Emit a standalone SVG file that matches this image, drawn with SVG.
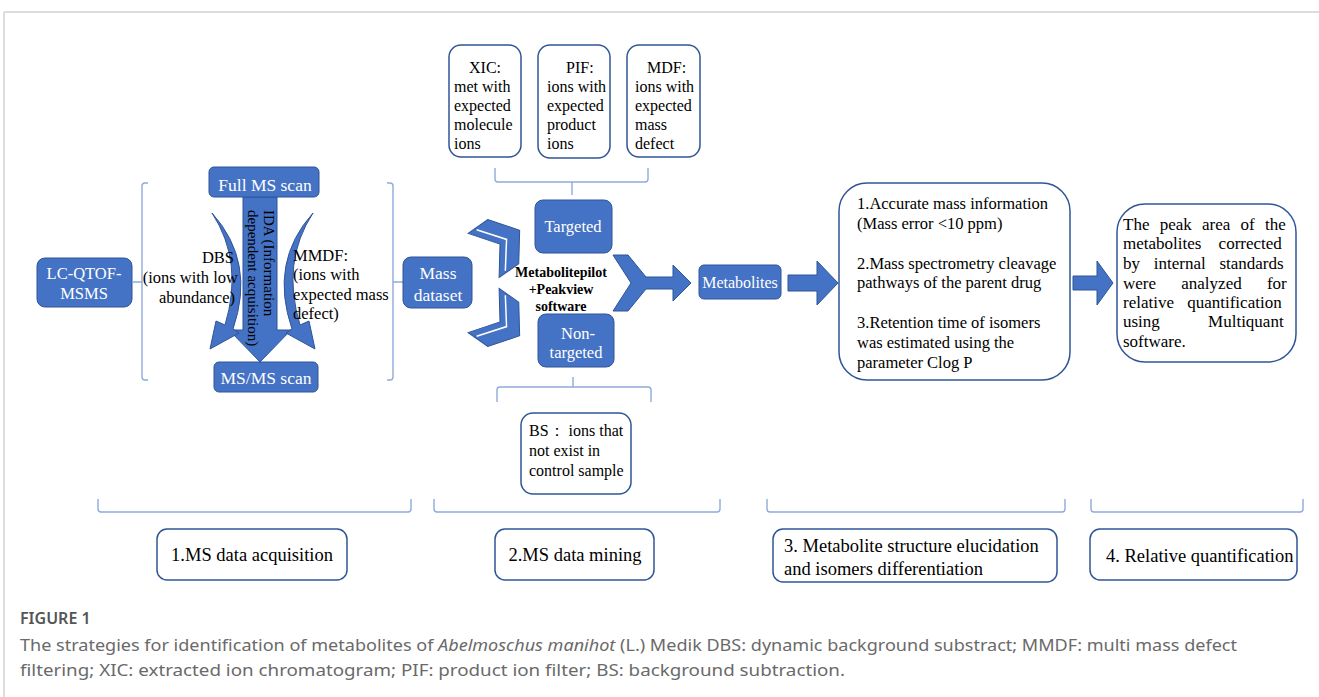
<svg xmlns="http://www.w3.org/2000/svg" width="1319" height="697" viewBox="0 0 1319 697">
<style>
.blue{fill:#4472c4;stroke:#2f5597;stroke-width:1}
.wbox{fill:#fff;stroke:#2f5597;stroke-width:1.5}
.br{fill:none;stroke:#8faadc;stroke-width:1.4}
.t{font-family:"Liberation Serif","Times New Roman",serif;fill:#000}
.w{fill:#fff}
.c{text-anchor:middle}
.cap{font-family:"Noto Sans","Open Sans",sans-serif;fill:#6a6a6a}
</style>
<rect x="0" y="0" width="1319" height="697" fill="#fff"/>
<path d="M4,12 H1319 M4,12 V697" stroke="#d2d2d2" stroke-width="1.5" fill="none"/>

<g id="connectors">
  <path class="br" d="M148,183 H145 Q142,183 142,186 V377 Q142,380 145,380 H148 M142,282 H133"/>
  <path class="br" d="M387,183 H390 Q393,183 393,186 V377 Q393,380 390,380 H387 M393,282 H403"/>
  <path class="br" d="M495,168 V179 Q495,182 498,182 H645 Q648,182 648,179 V168 M572,182 V195"/>
  <path class="br" d="M497,402 V390 Q497,387 500,387 H648 Q651,387 651,390 V402 M573,387 V377"/>
  <path class="br" d="M98,499 V509 Q98,512 101,512 H408 Q411,512 411,509 V499"/>
  <path class="br" d="M434,499 V509 Q434,512 437,512 H717 Q720,512 720,509 V499"/>
  <path class="br" d="M767,499 V509 Q767,512 770,512 H1062 Q1065,512 1065,509 V499"/>
  <path class="br" d="M1091,499 V509 Q1091,512 1094,512 H1300 Q1303,512 1303,509 V499"/>
  <polygon class="blue" points="243,197 277,197 277,330 291,330 260,362 229,330 243,330"/>
  <path class="blue" d="M212,213 Q256,262 233,329 L239,333 L210,349 L216,321 L225,325 Q244,262 212,213 Z"/>
  <path class="blue" d="M313,213 Q269,262 292,329 L286,333 L315,349 L309,321 L300,325 Q281,262 313,213 Z"/>
  <g transform="translate(500,244) rotate(-35)">
    <polygon class="blue" points="-20,-27 4,-27 24,0 4,27 -20,27 0,0"/>
    <polyline points="-11,-25 8,0 -11,25" fill="none" stroke="#fff" stroke-width="1.5"/>
  </g>
  <g transform="translate(500,322) rotate(35)">
    <polygon class="blue" points="-20,-27 4,-27 24,0 4,27 -20,27 0,0"/>
    <polyline points="-11,-25 8,0 -11,25" fill="none" stroke="#fff" stroke-width="1.5"/>
  </g>
  <polygon class="blue" points="613,255 628,255 646,277 673,277 673,265 691,283 673,301 673,289 646,289 628,311 613,311 631,283"/>
  <polygon class="blue" points="788,275 817,275 817,261 838,283 817,305 817,291 788,291"/>
  <polygon class="blue" points="1073,276 1097,276 1097,261 1113,283 1097,305 1097,290 1073,290"/>
</g>

<g id="ida-label">
  <text class="t" font-size="15" transform="translate(264,210) rotate(90)">IDA (Information</text>
  <text class="t" font-size="15" transform="translate(248,210) rotate(90)">dependent acquisition)</text>
</g>

<g id="lcqtof">
  <rect class="blue" x="37" y="258" width="95" height="49" rx="8"/>
  <text class="t w c" font-size="16.5" x="84" y="279">LC-QTOF-</text>
  <text class="t w c" font-size="16.5" x="84" y="299">MSMS</text>
</g>
<g id="fullms">
  <rect class="blue" x="209" y="167" width="110" height="30" rx="5"/>
  <text class="t w c" font-size="17.5" x="265" y="191">Full MS scan</text>
</g>
<g id="msms">
  <rect class="blue" x="214" y="362" width="104" height="30" rx="5"/>
  <text class="t w c" font-size="17.5" x="266" y="384">MS/MS scan</text>
</g>
<g id="dbs">
  <text class="t" font-size="16.5" text-anchor="end" x="234" y="263">DBS</text>
  <text class="t" font-size="16.5" text-anchor="end" x="238" y="283">(ions with low</text>
  <text class="t" font-size="16.5" text-anchor="end" x="235" y="303">abundance)</text>
</g>
<g id="mmdf">
  <text class="t" font-size="16.5" x="293" y="261">MMDF:</text>
  <text class="t" font-size="16.5" x="293" y="280">(ions with</text>
  <text class="t" font-size="16.5" x="293" y="300">expected mass</text>
  <text class="t" font-size="16.5" x="293" y="319">defect)</text>
</g>
<g id="massdataset">
  <rect class="blue" x="403" y="257" width="69" height="51" rx="8"/>
  <text class="t w c" font-size="17.5" x="438" y="279">Mass</text>
  <text class="t w c" font-size="17.5" x="438" y="301">dataset</text>
</g>
<g id="xic">
  <rect class="wbox" x="449" y="45" width="72" height="112" rx="12"/>
  <text class="t" font-size="16" x="469" y="73">XIC:</text>
  <text class="t" font-size="16" x="454" y="92">met with</text>
  <text class="t" font-size="16" x="454" y="111">expected</text>
  <text class="t" font-size="16" x="454" y="130">molecule</text>
  <text class="t" font-size="16" x="454" y="149">ions</text>
</g>
<g id="pif">
  <rect class="wbox" x="538" y="45" width="72" height="113" rx="12"/>
  <text class="t" font-size="16" x="566" y="73">PIF:</text>
  <text class="t" font-size="16" x="547" y="92">ions with</text>
  <text class="t" font-size="16" x="547" y="111">expected</text>
  <text class="t" font-size="16" x="547" y="130">product</text>
  <text class="t" font-size="16" x="547" y="149">ions</text>
</g>
<g id="mdf">
  <rect class="wbox" x="627" y="45" width="73" height="112" rx="12"/>
  <text class="t" font-size="16" x="647" y="73">MDF:</text>
  <text class="t" font-size="16" x="635" y="92">ions with</text>
  <text class="t" font-size="16" x="635" y="111">expected</text>
  <text class="t" font-size="16" x="635" y="130">mass</text>
  <text class="t" font-size="16" x="635" y="149">defect</text>
</g>
<g id="targeted">
  <rect class="blue" x="535" y="200" width="77" height="53" rx="8"/>
  <text class="t w c" font-size="16.5" x="573" y="232">Targeted</text>
</g>
<g id="nontargeted">
  <rect class="blue" x="538" y="314" width="76" height="53" rx="8"/>
  <text class="t w c" font-size="16.5" x="578" y="339">Non-</text>
  <text class="t w c" font-size="16.5" x="576" y="358">targeted</text>
</g>
<g id="software">
  <text class="t c" font-size="14" font-weight="bold" x="561" y="277">Metabolitepilot</text>
  <text class="t c" font-size="14" font-weight="bold" x="561" y="294">+Peakview</text>
  <text class="t c" font-size="14" font-weight="bold" x="561" y="311">software</text>
</g>
<g id="bs">
  <rect class="wbox" x="521" y="413" width="110" height="81" rx="12"/>
  <text class="t" font-size="16" font-family="Liberation Serif, Noto Sans CJK SC, serif" x="529" y="436">BS： ions that</text>
  <text class="t" font-size="16" x="529" y="456">not exist in</text>
  <text class="t" font-size="16" x="529" y="476">control sample</text>
</g>
<g id="metabolites">
  <rect class="blue" x="699" y="265" width="82" height="34" rx="5"/>
  <text class="t w c" font-size="16" x="740" y="288">Metabolites</text>
</g>
<g id="criteria">
  <rect class="wbox" x="839" y="183" width="231" height="197" rx="28"/>
  <text class="t" font-size="16.5" x="857" y="209">1.Accurate mass information</text>
  <text class="t" font-size="16.5" x="857" y="229">(Mass error &lt;10 ppm)</text>
  <text class="t" font-size="16.5" x="857" y="269">2.Mass spectrometry cleavage</text>
  <text class="t" font-size="16.5" x="857" y="288">pathways of the parent drug</text>
  <text class="t" font-size="16.5" x="857" y="328">3.Retention time of isomers</text>
  <text class="t" font-size="16.5" x="857" y="348">was estimated using the</text>
  <text class="t" font-size="16.5" x="857" y="368">parameter Clog P</text>
</g>
<g id="quant">
  <rect class="wbox" x="1117" y="204" width="179" height="158" rx="28"/>
  <text class="t" font-size="17" x="1123" y="230" word-spacing="6">The peak area of the</text>
  <text class="t" font-size="17" x="1123" y="249" word-spacing="13">metabolites corrected</text>
  <text class="t" font-size="17" x="1123" y="269" word-spacing="9.5">by internal standards</text>
  <text class="t" font-size="17" x="1123" y="289" word-spacing="21">were analyzed for</text>
  <text class="t" font-size="17" x="1123" y="308" word-spacing="9">relative quantification</text>
  <text class="t" font-size="17" x="1123" y="327" word-spacing="44">using Multiquant</text>
  <text class="t" font-size="17" x="1123" y="347">software.</text>
</g>
<g id="stage1">
  <rect class="wbox" x="157" y="529" width="190" height="51" rx="10"/>
  <text class="t c" font-size="18.5" x="252" y="561">1.MS data acquisition</text>
</g>
<g id="stage2">
  <rect class="wbox" x="495" y="529" width="159" height="51" rx="10"/>
  <text class="t c" font-size="18.5" x="575" y="561">2.MS data mining</text>
</g>
<g id="stage3">
  <rect class="wbox" x="773" y="529" width="284" height="53" rx="10"/>
  <text class="t" font-size="18.5" x="784" y="552">3. Metabolite structure elucidation</text>
  <text class="t" font-size="18.5" x="784" y="575">and isomers differentiation</text>
</g>
<g id="stage4">
  <rect class="wbox" x="1090" y="529" width="207" height="51" rx="10"/>
  <text class="t" font-size="18.5" x="1106" y="562">4. Relative quantification</text>
</g>
<g id="caption">
  <text class="cap" font-size="16" x="20" y="624" font-weight="600" style="fill:#555">FIGURE 1</text>
  <text class="cap" font-size="16" x="20" y="651" textLength="1217" lengthAdjust="spacingAndGlyphs">The strategies for identification of metabolites of <tspan font-style="italic">Abelmoschus manihot</tspan> (L.) Medik DBS: dynamic background substract; MMDF: multi mass defect</text>
  <text class="cap" font-size="16" x="20" y="676" textLength="825" lengthAdjust="spacingAndGlyphs">filtering; XIC: extracted ion chromatogram; PIF: product ion filter; BS: background subtraction.</text>
</g>
</svg>
